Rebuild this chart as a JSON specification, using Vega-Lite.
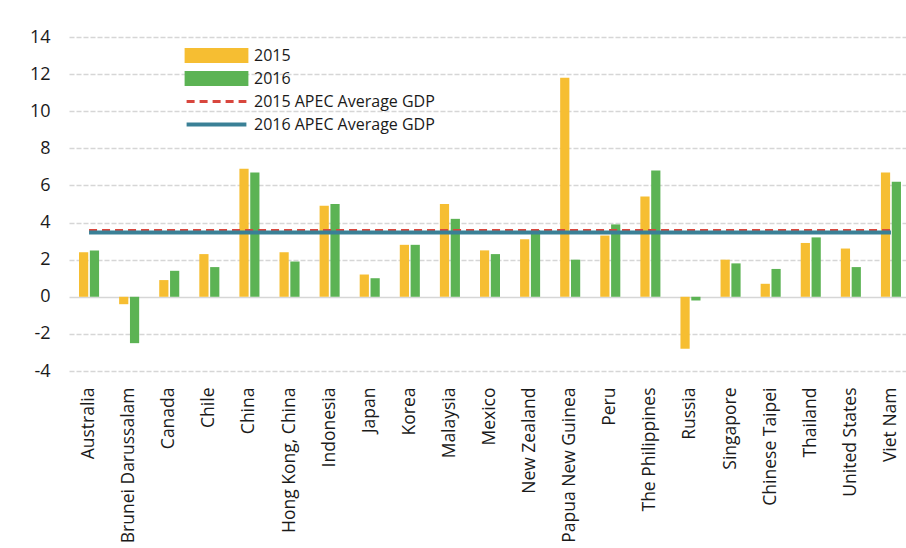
{
  "$schema": "https://vega.github.io/schema/vega-lite/v6.json",
  "width": 842,
  "height": 334,
  "autosize": {"type": "none"},
  "padding": {"left": 69, "top": 37, "right": 0, "bottom": 177},
  "background": "white",
  "config": {"view": {"stroke": null}, "font": "Open Sans"},
  "datasets": {
    "gdp": [
      {"country": "Australia", "series": "2015", "value": 2.4},
      {"country": "Australia", "series": "2016", "value": 2.5},
      {"country": "Brunei Darussalam", "series": "2015", "value": -0.4},
      {"country": "Brunei Darussalam", "series": "2016", "value": -2.5},
      {"country": "Canada", "series": "2015", "value": 0.9},
      {"country": "Canada", "series": "2016", "value": 1.4},
      {"country": "Chile", "series": "2015", "value": 2.3},
      {"country": "Chile", "series": "2016", "value": 1.6},
      {"country": "China", "series": "2015", "value": 6.9},
      {"country": "China", "series": "2016", "value": 6.7},
      {"country": "Hong Kong, China", "series": "2015", "value": 2.4},
      {"country": "Hong Kong, China", "series": "2016", "value": 1.9},
      {"country": "Indonesia", "series": "2015", "value": 4.9},
      {"country": "Indonesia", "series": "2016", "value": 5.0},
      {"country": "Japan", "series": "2015", "value": 1.2},
      {"country": "Japan", "series": "2016", "value": 1.0},
      {"country": "Korea", "series": "2015", "value": 2.8},
      {"country": "Korea", "series": "2016", "value": 2.8},
      {"country": "Malaysia", "series": "2015", "value": 5.0},
      {"country": "Malaysia", "series": "2016", "value": 4.2},
      {"country": "Mexico", "series": "2015", "value": 2.5},
      {"country": "Mexico", "series": "2016", "value": 2.3},
      {"country": "New Zealand", "series": "2015", "value": 3.1},
      {"country": "New Zealand", "series": "2016", "value": 3.6},
      {"country": "Papua New Guinea", "series": "2015", "value": 11.8},
      {"country": "Papua New Guinea", "series": "2016", "value": 2.0},
      {"country": "Peru", "series": "2015", "value": 3.3},
      {"country": "Peru", "series": "2016", "value": 3.9},
      {"country": "The Philippines", "series": "2015", "value": 5.4},
      {"country": "The Philippines", "series": "2016", "value": 6.8},
      {"country": "Russia", "series": "2015", "value": -2.8},
      {"country": "Russia", "series": "2016", "value": -0.2},
      {"country": "Singapore", "series": "2015", "value": 2.0},
      {"country": "Singapore", "series": "2016", "value": 1.8},
      {"country": "Chinese Taipei", "series": "2015", "value": 0.7},
      {"country": "Chinese Taipei", "series": "2016", "value": 1.5},
      {"country": "Thailand", "series": "2015", "value": 2.9},
      {"country": "Thailand", "series": "2016", "value": 3.2},
      {"country": "United States", "series": "2015", "value": 2.6},
      {"country": "United States", "series": "2016", "value": 1.6},
      {"country": "Viet Nam", "series": "2015", "value": 6.7},
      {"country": "Viet Nam", "series": "2016", "value": 6.2}
    ],
    "avg2015": [
      {"series": "2015 APEC Average GDP", "value": 3.57, "country": "Australia", "end": "Viet Nam"}
    ],
    "avg2016": [
      {"series": "2016 APEC Average GDP", "value": 3.47, "country": "Australia", "end": "Viet Nam"}
    ]
  },
  "encoding": {
    "x": {
      "field": "country",
      "type": "nominal",
      "sort": null,
      "scale": {
        "domain": ["Australia", "Brunei Darussalam", "Canada", "Chile", "China", "Hong Kong, China", "Indonesia", "Japan", "Korea", "Malaysia", "Mexico", "New Zealand", "Papua New Guinea", "Peru", "The Philippines", "Russia", "Singapore", "Chinese Taipei", "Thailand", "United States", "Viet Nam"],
        "paddingInner": 0.5,
        "paddingOuter": 0.25
      },
      "axis": {
        "title": null,
        "labelAngle": -90,
        "labelFontSize": 17.5,
        "labelColor": "#1a1a1a",
        "labelPadding": 16,
        "labelLimit": 0,
        "ticks": false,
        "domain": false,
        "grid": false
      }
    },
    "y": {
      "field": "value",
      "type": "quantitative",
      "scale": {"domain": [-4, 14], "nice": false},
      "axis": {
        "title": null,
        "values": [-4, -2, 0, 2, 4, 6, 8, 10, 12, 14],
        "labelExpr": "'' + datum.value",
        "labelFontSize": 18,
        "labelColor": "#1a1a1a",
        "labelPadding": 19,
        "labelOverlap": false,
        "ticks": false,
        "domain": false,
        "grid": true,
        "gridColor": "#D6D6D6",
        "gridWidth": 1.3,
        "gridDash": {"condition": {"test": "datum.value === 0", "value": [1, 0]}, "value": [5, 2]}
      }
    },
    "color": {
      "field": "series",
      "type": "nominal",
      "scale": {
        "domain": ["2015", "2016", "2015 APEC Average GDP", "2016 APEC Average GDP"],
        "range": ["#F6BE32", "#5CB354", "#D8463D", "#3A8096"]
      },
      "legend": {
        "title": null,
        "orient": "none",
        "legendX": 139.5,
        "legendY": 10.5,
        "padding": 0,
        "gridAlign": "all",
        "rowPadding": -5,
        "symbolSize": 529,
        "labelOffset": 29.5,
        "labelFontSize": 16,
        "labelColor": "#1a1a1a",
        "labelLimit": 0,
        "encode": {
          "symbols": {
            "update": {
              "shape": {"signal": "(datum.value === '2015' || datum.value === '2016') ? 'M-2.6,-0.48H2.6V0.48H-2.6Z' : 'M-2.6,0H2.6'"},
              "fill": {"signal": "(datum.value === '2015' || datum.value === '2016') ? scale('color', datum.value) : 'transparent'"},
              "stroke": {"signal": "(datum.value === '2015' || datum.value === '2016') ? 'transparent' : scale('color', datum.value)"},
              "strokeWidth": {"signal": "datum.value === '2015 APEC Average GDP' ? 3 : 4"},
              "strokeDash": {"signal": "datum.value === '2015 APEC Average GDP' ? [8, 5] : [1, 0]"},
              "opacity": {"value": 1},
              "fillOpacity": {"value": 1},
              "strokeOpacity": {"value": 1}
            }
          }
        }
      }
    }
  },
  "layer": [
    {
      "data": {"name": "gdp"},
      "mark": {"type": "bar"},
      "encoding": {
        "xOffset": {
          "field": "series",
          "type": "nominal",
          "scale": {"paddingInner": 0.15, "paddingOuter": 0}
        }
      }
    },
    {
      "data": {"name": "avg2015"},
      "mark": {"type": "rule", "strokeWidth": 3, "strokeDash": [8, 5]},
      "encoding": {
        "x2": {"field": "end"}
      }
    },
    {
      "data": {"name": "avg2016"},
      "mark": {"type": "rule", "strokeWidth": 4},
      "encoding": {
        "x2": {"field": "end"}
      }
    }
  ]
}
